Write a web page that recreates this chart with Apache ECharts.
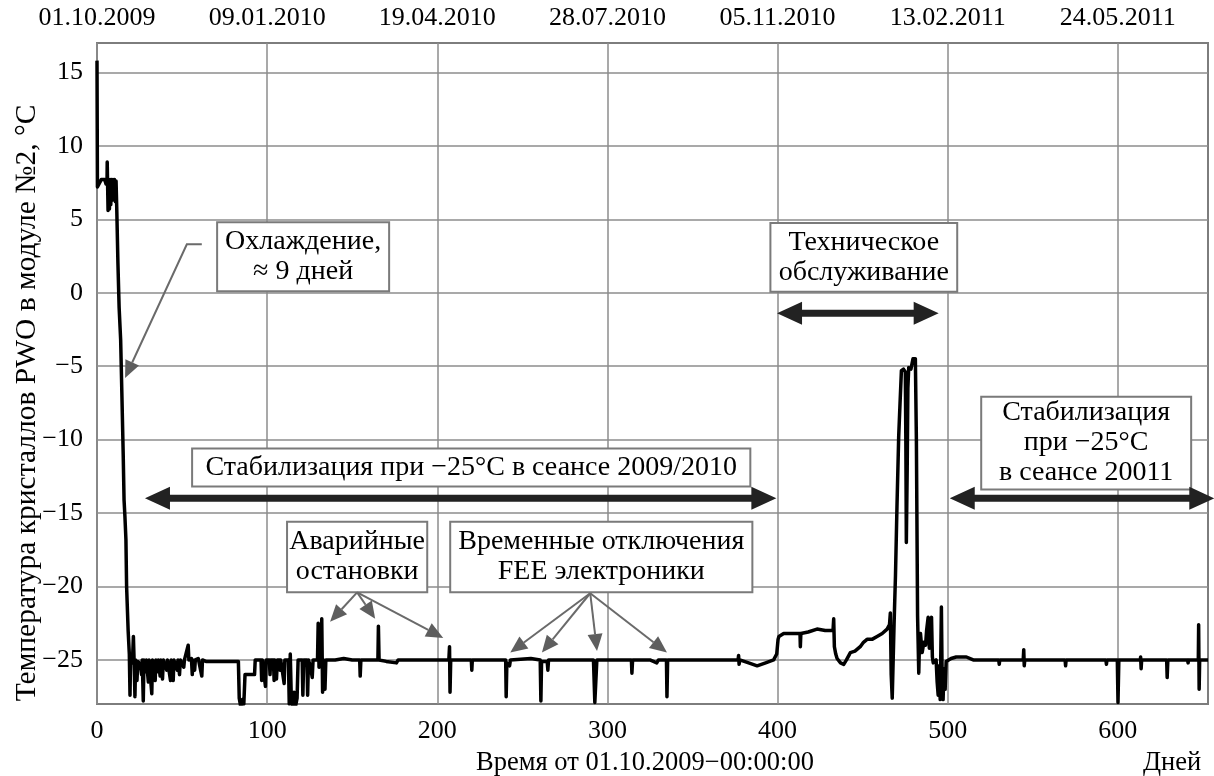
<!DOCTYPE html>
<html>
<head>
<meta charset="utf-8">
<script src="https://cdn.jsdelivr.net/npm/echarts@6/dist/echarts.min.js"></script>
<style>
html, body { margin: 0; padding: 0; background: #fff; }
#chart { width: 1214px; height: 776px; }
</style>
</head>
<body>
<div id="chart"></div>
<script>
// PWO crystal temperature in module No.2: [days since 01.10.2009, °C]
const coolingData = [
  [0, 15.8], [0.25, 7.2], [1.2, 7.3], [2.5, 7.7], [4.5, 7.7], [5.3, 7.4], [5.9, 7.6], [6.0, 8.9], [6.2, 7.6],
  [6.5, 5.6], [6.9, 7.7], [7.3, 5.7], [7.7, 7.7], [8.1, 6.0], [8.5, 7.7], [9.0, 6.3], [9.4, 7.7], [9.9, 6.5],
  [10.3, 7.7], [10.8, 6.2], [11.2, 7.6], [11.6, 5.8], [12.3, 2.0], [13.0, -1.0], [13.9, -3.2], [14.7, -7.3],
  [15.4, -11.0], [15.9, -14.1], [16.4, -15.2], [17.0, -16.8], [17.4, -20.0], [18.3, -23.0], [19.0, -24.6]
];

const session2009Data = [
  [19.4, -27.4], [19.7, -25.0], [20.8, -25.2], [21.4, -23.4], [21.8, -25.0], [22.3, -27.5], [22.7, -25.0],
  [23.5, -26.4], [24.0, -25.1], [25.5, -25.3], [26.2, -26.0], [26.6, -25.0], [27.2, -27.8], [27.6, -25.0],
  [28.6, -25.8], [29.0, -25.0], [30.2, -26.5], [30.6, -25.0], [32.2, -27.3], [32.6, -25.0], [34.2, -26.4],
  [34.6, -25.0], [35.5, -25.8], [36.0, -25.0], [37.1, -26.1], [37.5, -25.0], [38.5, -26.3], [39.0, -25.0],
  [39.5, -25.2], [41.0, -25.7], [41.4, -25.0], [43.2, -26.4], [43.6, -25.0], [44.8, -26.4], [45.2, -25.0],
  [47.2, -25.7], [47.6, -25.0], [48.5, -26.0], [49.0, -25.0], [51.0, -25.5], [51.4, -25.0], [53.6, -24.0],
  [54.0, -25.0], [55.5, -24.9], [56.0, -26.0], [56.4, -25.0], [57.4, -25.7], [57.8, -25.0], [59.5, -24.9],
  [61.6, -26.1], [62.0, -25.0], [64.0, -25.1], [72.0, -25.1], [83.1, -25.1], [83.6, -27.6], [84.5, -28.2],
  [85.5, -27.7], [86.3, -28.0], [87.0, -26.0], [92.6, -26.0], [93.0, -25.0], [96.4, -25.0], [96.8, -26.4],
  [97.2, -25.0], [99.0, -26.8], [99.4, -25.0], [101.3, -25.0], [101.7, -26.0], [102.1, -25.0], [103.7, -25.0],
  [104.1, -26.4], [104.5, -25.0], [105.5, -26.3], [106.0, -25.0], [107.2, -25.0], [107.6, -25.7], [108.0, -25.0],
  [110.0, -26.6], [110.4, -25.0], [112.5, -25.0], [113.0, -28.0], [113.6, -24.6], [114.2, -27.6], [115.0, -28.2],
  [115.8, -27.2], [116.6, -28.2], [117.6, -27.6], [118.2, -25.0], [120.6, -25.0], [121.0, -27.4], [121.5, -25.0],
  [123.4, -25.0], [123.8, -27.4], [124.3, -25.0], [125.5, -25.5], [126.5, -26.2], [127.0, -25.0], [129.6, -25.0],
  [130.0, -22.5], [130.5, -25.5], [131.5, -25.0], [132.1, -22.2], [132.6, -27.2], [133.2, -25.0], [134.0, -27.0],
  [134.5, -25.0], [140.0, -25.0], [145.0, -24.9], [150.0, -25.0], [154.4, -25.0], [154.7, -26.1], [155.1, -25.0],
  [160.0, -25.0], [165.1, -25.0], [165.4, -22.7], [165.8, -25.0], [170.0, -25.1], [176.0, -25.2], [177.0, -25.0],
  [190.0, -25.0], [206.8, -25.0], [207.2, -24.1], [207.5, -27.2], [207.9, -25.0], [213.0, -25.0], [220.0, -25.0],
  [220.3, -25.7], [220.6, -25.0], [235.0, -25.0], [240.2, -25.0], [240.5, -27.5], [240.9, -25.2], [242.5, -25.4],
  [243.0, -25.0], [255.0, -24.9], [260.5, -25.0], [260.9, -27.8], [261.3, -25.1], [264.6, -25.1], [265.0, -25.7],
  [265.4, -25.0], [280.0, -25.0], [291.8, -25.0], [292.6, -27.9], [293.2, -28.0], [293.8, -25.0], [305.0, -25.0],
  [314.1, -25.0], [314.4, -25.9], [314.8, -25.0], [325.0, -25.0], [329.0, -25.2], [330.0, -25.0], [334.7, -25.0],
  [335.0, -27.5], [335.4, -25.0], [350.0, -25.0], [365.0, -25.0], [376.8, -25.0], [377.1, -24.7], [377.4, -25.3],
  [377.8, -25.0], [383.0, -25.2], [388.0, -25.4], [393.0, -25.2], [397.7, -25.0], [399.5, -24.6], [400.3, -23.6]
];

const maintenanceData = [
  [400.8, -23.4], [401.6, -23.3], [403.6, -23.2], [408.0, -23.2], [413.2, -23.2], [413.4, -24.1],
  [413.7, -23.2], [418.0, -23.1], [423.2, -22.9], [428.0, -23.0], [432.6, -23.0], [433.0, -22.2],
  [433.4, -24.1], [434.2, -24.6], [435.0, -24.9], [437.0, -25.2], [438.9, -25.3], [440.5, -25.0],
  [442.8, -24.5], [445.5, -24.4], [448.6, -24.1], [450.5, -23.8], [452.6, -23.6], [455.5, -23.6],
  [458.5, -23.4], [461.5, -23.2], [464.4, -22.9], [465.8, -22.6], [466.3, -21.8], [466.8, -26.0],
  [467.4, -27.6], [467.9, -27.6], [468.5, -22.5], [469.3, -19.3], [470.2, -14.5], [471.2, -9.8],
  [472.0, -7.5], [472.8, -5.3], [474.0, -5.2], [475.1, -5.4], [475.4, -10.0], [475.7, -17.0],
  [476.2, -12.0], [476.6, -6.5], [477.1, -5.1], [478.4, -5.2], [479.1, -4.8], [479.6, -4.5],
  [481.0, -4.5], [481.6, -10.0], [482.3, -22.0], [483.0, -25.9], [483.5, -23.4], [484.0, -23.2],
  [485.0, -24.5], [486.0, -23.8], [487.0, -24.0], [487.6, -23.0], [488.5, -22.1], [489.2, -24.2],
  [489.8, -22.4], [490.5, -22.1], [491.0, -24.8], [491.5, -25.2], [492.4, -25.2], [493.2, -25.0],
  [493.8, -26.5], [494.4, -27.4], [495.0, -25.4], [495.6, -27.7], [496.3, -21.4], [496.8, -26.8],
  [497.3, -27.7], [497.8, -25.6], [498.5, -27.0], [499.1, -25.1]
];

const session2011Data = [
  [499.8, -25.0], [502.0, -24.9], [505.0, -24.8], [511.0, -24.8], [515.0, -25.0], [530.0, -25.0],
  [530.3, -25.3], [530.6, -25.0], [544.4, -25.0], [544.7, -24.3], [545.0, -25.4], [545.3, -25.0],
  [560.0, -25.0], [569.0, -25.0], [569.3, -25.4], [569.6, -25.0], [585.0, -25.0], [593.0, -25.0],
  [593.3, -25.3], [593.6, -25.0], [599.7, -25.0], [600.1, -27.9], [600.6, -25.0], [613.2, -25.0],
  [613.4, -24.8], [613.7, -25.6], [614.0, -25.0], [628.7, -25.0], [629.0, -26.2], [629.4, -25.0],
  [641.0, -25.0], [641.3, -25.2], [641.6, -25.0], [647.3, -25.0], [647.5, -22.6], [647.8, -27.0],
  [648.1, -25.0], [653.0, -25.0]
];

// Axis ticks
const dayTicks = [0, 100, 200, 300, 400, 500, 600];
const dateLabels = ['01.10.2009', '09.01.2010', '19.04.2010', '28.07.2010', '05.11.2010', '13.02.2011', '24.05.2011'];
const tempTicks = [-25, -20, -15, -10, -5, 0, 5, 10, 15];

// Annotations, anchored in data units [day, °C]
const boxNotes = [
  { lines: ['Охлаждение,', '≈ 9 дней'], corners: [[70.6, 4.8], [171.7, 0.1]] },
  { lines: ['Стабилизация при −25°C в сеансе 2009/2010'], corners: [[55.9, -10.6], [384.0, -13.2]] },
  { lines: ['Аварийные', 'остановки'], corners: [[111.7, -15.6], [194.1, -20.4]] },
  { lines: ['Временные отключения', 'FEE электроники'], corners: [[207.6, -15.6], [385.2, -20.4]] },
  { lines: ['Техническое', 'обслуживание'], corners: [[395.8, 4.75], [505.6, 0.06]] },
  { lines: ['Стабилизация', 'при −25°C', 'в сеансе 20011'], corners: [[519.7, -7.09], [643.1, -13.39]] }
];
const spanArrows = [
  [[28.2, -14.0], [399.3, -14.0]],
  [[399.7, -1.4], [494.7, -1.4]],
  [[501.2, -14.0], [656.7, -14.0]]
];
const pointerPaths = [
  [[61.6, 3.3], [52.8, 3.3], [16.5, -5.8]],
  [[152.9, -20.4], [137.0, -22.4]],
  [[152.9, -20.4], [163.5, -22.2]],
  [[152.9, -20.4], [203.5, -23.5]],
  [[289.9, -20.46], [242.9, -24.5]],
  [[289.9, -20.46], [261.5, -24.5]],
  [[289.9, -20.46], [293.9, -24.4]],
  [[289.9, -20.46], [335.0, -24.5]]
];

const FONT = '"Liberation Serif", "Times New Roman", serif';
const fmtTemp = v => (v < 0 ? '−' + Math.abs(v) : String(v));

const chart = echarts.init(document.getElementById('chart'), null, { renderer: 'canvas' });

chart.setOption({
  animation: false,
  backgroundColor: '#fff',
  textStyle: { fontFamily: FONT, color: '#000' },
  grid: {
    left: 97, right: 6, top: 43, bottom: 72,
    outerBoundsMode: 'none', containLabel: false,
    show: true, borderColor: '#7d7d7d', borderWidth: 2, backgroundColor: 'transparent'
  },
  xAxis: [
    {
      type: 'value', min: 0, max: 653, position: 'bottom',
      axisLine: { show: false },
      axisTick: { show: false, customValues: dayTicks },
      axisLabel: { customValues: dayTicks, fontSize: 26, fontFamily: FONT, color: '#000', margin: 14 },
      splitLine: { show: true, lineStyle: { color: '#8c8c8c', width: 1.5 } }
    },
    {
      type: 'value', min: 0, max: 653, position: 'top',
      axisLine: { show: false },
      axisTick: { show: false, customValues: dayTicks },
      axisLabel: {
        customValues: dayTicks, fontSize: 26, fontFamily: FONT, color: '#000', margin: 12,
        formatter: v => dateLabels[dayTicks.indexOf(v)] || ''
      },
      splitLine: { show: false }
    }
  ],
  yAxis: {
    type: 'value', min: -28, max: 17,
    axisLine: { show: false },
    axisTick: { show: false, customValues: tempTicks },
    axisLabel: { customValues: tempTicks, fontSize: 26, fontFamily: FONT, color: '#000', margin: 14, formatter: fmtTemp },
    splitLine: { show: true, lineStyle: { color: '#8c8c8c', width: 1.5 } }
  },
  series: [{
    type: 'line',
    data: [].concat(coolingData, session2009Data, maintenanceData, session2011Data),
    showSymbol: false,
    symbol: 'none',
    clip: true,
    lineStyle: { color: '#000', width: 3.5, join: 'round' },
    z: 5
  }]
});

function toPx(p) {
  return chart.convertToPixel({ xAxisIndex: 0, yAxisIndex: 0 }, p);
}

function headPoints(tip, from, len, half) {
  const dx = tip[0] - from[0], dy = tip[1] - from[1];
  const d = Math.hypot(dx, dy), ux = dx / d, uy = dy / d;
  const bx = tip[0] - ux * len, by = tip[1] - uy * len;
  return [tip, [bx - uy * half, by + ux * half], [bx + uy * half, by - ux * half]];
}

const graphics = [];

boxNotes.forEach(note => {
  const a = toPx(note.corners[0]), b = toPx(note.corners[1]);
  const x = Math.min(a[0], b[0]), y = Math.min(a[1], b[1]);
  const w = Math.abs(b[0] - a[0]), h = Math.abs(b[1] - a[1]);
  graphics.push({
    type: 'rect', z: 100,
    shape: { x: x, y: y, width: w, height: h },
    style: { fill: '#fff', stroke: '#7a7a7a', lineWidth: 2 }
  });
  graphics.push({
    type: 'text', z: 101,
    style: {
      text: note.lines.join('\n'), x: x + w / 2, y: y + h / 2,
      align: 'center', verticalAlign: 'middle', textAlign: 'center', textVerticalAlign: 'middle',
      font: '28px ' + FONT, lineHeight: 30, fill: '#000'
    }
  });
});

spanArrows.forEach(arr => {
  const p1 = toPx(arr[0]), p2 = toPx(arr[1]);
  const y = p1[1], x1 = p1[0], x2 = p2[0];
  const L = 25, W = 11.5, s = 3.5;
  graphics.push({
    type: 'polygon', z: 100,
    shape: {
      points: [
        [x1, y], [x1 + L, y - W], [x1 + L, y - s], [x2 - L, y - s], [x2 - L, y - W],
        [x2, y], [x2 - L, y + W], [x2 - L, y + s], [x1 + L, y + s], [x1 + L, y + W]
      ]
    },
    style: { fill: '#222', stroke: null }
  });
});

pointerPaths.forEach(path => {
  const pts = path.map(toPx);
  const tip = pts[pts.length - 1], prev = pts[pts.length - 2];
  const head = headPoints(tip, prev, 17, 7.5);
  const base = [(head[1][0] + head[2][0]) / 2, (head[1][1] + head[2][1]) / 2];
  graphics.push({
    type: 'polyline', z: 100,
    shape: { points: pts.slice(0, -1).concat([base]) },
    style: { stroke: '#6a6a6a', lineWidth: 2, fill: null }
  });
  graphics.push({
    type: 'polygon', z: 100,
    shape: { points: head },
    style: { fill: '#5e5e5e', stroke: null }
  });
});

// Axis titles
graphics.push({
  type: 'text', z: 101,
  x: 27, y: 403, rotation: Math.PI / 2,
  style: { text: 'Температура кристаллов PWO в модуле №2, °C', x: 0, y: 0, align: 'center', verticalAlign: 'middle',
           textAlign: 'center', textVerticalAlign: 'middle', font: '29.5px ' + FONT, fill: '#000' }
});
graphics.push({
  type: 'text', z: 101,
  style: { text: 'Время от 01.10.2009−00:00:00', x: 645, y: 763, align: 'center', verticalAlign: 'middle',
           textAlign: 'center', textVerticalAlign: 'middle', font: '26.5px ' + FONT, fill: '#000' }
});
graphics.push({
  type: 'text', z: 101,
  style: { text: 'Дней', x: 1172, y: 763, align: 'center', verticalAlign: 'middle',
           textAlign: 'center', textVerticalAlign: 'middle', font: '26.5px ' + FONT, fill: '#000' }
});

chart.setOption({ graphic: graphics });
</script>
</body>
</html>
